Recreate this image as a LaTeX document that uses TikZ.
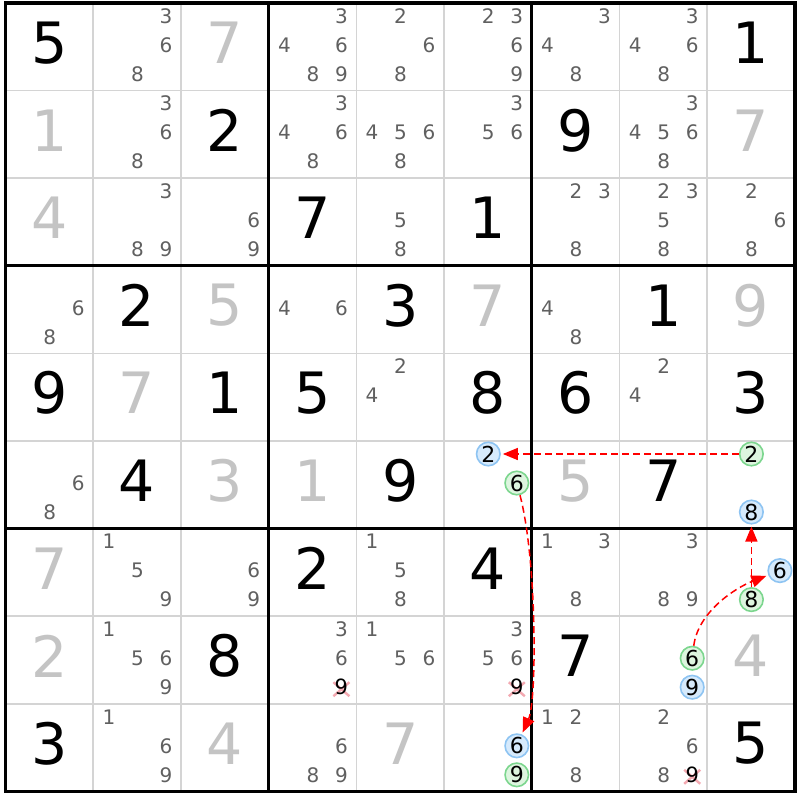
\documentclass[tikz,border=0pt]{standalone}
\usepackage{fontspec}
\setmainfont{DejaVu Sans}
\usetikzlibrary{arrows.meta}
\definecolor{candgray}{HTML}{606060}
\definecolor{solgray}{HTML}{C4C4C4}
\definecolor{gridgray}{HTML}{D4D4D4}
\definecolor{mbfill}{HTML}{D6EAFC}
\definecolor{mbdraw}{HTML}{8EC4F2}
\definecolor{mgfill}{HTML}{DDF5DF}
\definecolor{mgdraw}{HTML}{7CD68E}
\definecolor{xpink}{HTML}{F29AA4}
\definecolor{linkred}{HTML}{FF0000}
\tikzset{
  given/.style={inner sep=0pt, text=black, font=\fontsize{57}{57}\selectfont},
  solved/.style={inner sep=0pt, text=solgray, font=\fontsize{57}{57}\selectfont},
  cand/.style={inner sep=0pt, text=candgray, font=\fontsize{20}{20}\selectfont},
  candx/.style={inner sep=0pt, text=black, font=\fontsize{21}{21}\selectfont},
  markblue/.style={circle, minimum size=23.5pt, inner sep=0pt, fill=mbfill, draw=mbdraw, line width=1.6pt, text=black, font=\fontsize{22}{22}\selectfont},
  markgreen/.style={circle, minimum size=23.5pt, inner sep=0pt, fill=mgfill, draw=mgdraw, line width=1.6pt, text=black, font=\fontsize{22}{22}\selectfont},
  xcross/.style={draw=xpink, line width=2.4pt, opacity=0.85},
  thingrid/.style={draw=gridgray, line width=1.6pt},
  boxline/.style={draw=black, line width=3pt},
  outerline/.style={draw=black, line width=3.5pt},
  linkarrow/.style={draw=linkred, line width=1.5pt, dash pattern=on 7pt off 4pt, -{Triangle[length=15pt,width=12pt]}, shorten >=2pt}
}
\newcommand\CellXY[2]{%
  \pgfmathsetmacro\px{5.5+(#2-1)*87.7+43.85}%
  \pgfmathsetmacro\py{3+(#1-1)*87.6+43.8-4}}
\newcommand\CandXY[3]{%
  \pgfmathsetmacro\px{5.5+(#2-1)*87.7+15.8+mod(#3-1,3)*28.5}%
  \pgfmathsetmacro\py{3+(#1-1)*87.6+13+floor((#3-1)/3)*29}}
\newcommand\Giv[3]{\CellXY{#1}{#2}\node[given] (g#1#2) at (\px,\py) {#3};}
\newcommand\Sol[3]{\CellXY{#1}{#2}\node[solved] (s#1#2) at (\px,\py) {#3};}
\newcommand\Cands[3]{\foreach \dd in {#3}{\CandXY{#1}{#2}{\dd}\node[cand] (k#1#2-\dd) at (\px,\py) {\dd};}}
\newcommand\Mark[4]{\CandXY{#1}{#2}{#3}\node[mark#4] (m#1#2-#3) at (\px,\py) {#3};}
\newcommand\Cross[3]{\CandXY{#1}{#2}{#3}%
  \draw[xcross] ({\px-8},{\py-5}) -- ({\px+8},{\py+9}) ({\px-8},{\py+9}) -- ({\px+8},{\py-5});
  \node[candx] (x#1#2-#3) at (\px,\py) {#3};}
\begin{document}
\begin{tikzpicture}[x=1pt,y=-1pt]
\useasboundingbox[fill=white] (0,0) rectangle (800,800);
% grid
\foreach \i in {1,2,4,5,7,8}{
  \draw[thingrid] ({5.5+\i*87.7},3) -- ({5.5+\i*87.7},791.4);
  \draw[thingrid] (5.5,{3+\i*87.6}) -- (794.8,{3+\i*87.6});
}
\foreach \i in {3,6}{
  \draw[boxline] ({5.5+\i*87.7},3) -- ({5.5+\i*87.7},791.4);
  \draw[boxline] (5.5,{3+\i*87.6}) -- (794.8,{3+\i*87.6});
}
\draw[outerline] (5.5,3) rectangle (794.8,791.4);
% row 1
\Giv{1}{1}{5} \Cands{1}{2}{3,6,8} \Sol{1}{3}{7} \Cands{1}{4}{3,4,6,8,9} \Cands{1}{5}{2,6,8}
\Cands{1}{6}{2,3,6,9} \Cands{1}{7}{3,4,8} \Cands{1}{8}{3,4,6,8} \Giv{1}{9}{1}
% row 2
\Sol{2}{1}{1} \Cands{2}{2}{3,6,8} \Giv{2}{3}{2} \Cands{2}{4}{3,4,6,8} \Cands{2}{5}{4,5,6,8}
\Cands{2}{6}{3,5,6} \Giv{2}{7}{9} \Cands{2}{8}{3,4,5,6,8} \Sol{2}{9}{7}
% row 3
\Sol{3}{1}{4} \Cands{3}{2}{3,8,9} \Cands{3}{3}{6,9} \Giv{3}{4}{7} \Cands{3}{5}{5,8}
\Giv{3}{6}{1} \Cands{3}{7}{2,3,8} \Cands{3}{8}{2,3,5,8} \Cands{3}{9}{2,6,8}
% row 4
\Cands{4}{1}{6,8} \Giv{4}{2}{2} \Sol{4}{3}{5} \Cands{4}{4}{4,6} \Giv{4}{5}{3}
\Sol{4}{6}{7} \Cands{4}{7}{4,8} \Giv{4}{8}{1} \Sol{4}{9}{9}
% row 5
\Giv{5}{1}{9} \Sol{5}{2}{7} \Giv{5}{3}{1} \Giv{5}{4}{5} \Cands{5}{5}{2,4}
\Giv{5}{6}{8} \Giv{5}{7}{6} \Cands{5}{8}{2,4} \Giv{5}{9}{3}
% row 6
\Cands{6}{1}{6,8} \Giv{6}{2}{4} \Sol{6}{3}{3} \Sol{6}{4}{1} \Giv{6}{5}{9}
\Mark{6}{6}{2}{blue} \Mark{6}{6}{6}{green} \Sol{6}{7}{5} \Giv{6}{8}{7}
\Mark{6}{9}{2}{green} \Mark{6}{9}{8}{blue}
% row 7
\Sol{7}{1}{7} \Cands{7}{2}{1,5,9} \Cands{7}{3}{6,9} \Giv{7}{4}{2} \Cands{7}{5}{1,5,8}
\Giv{7}{6}{4} \Cands{7}{7}{1,3,8} \Cands{7}{8}{3,8,9} \Mark{7}{9}{6}{blue} \Mark{7}{9}{8}{green}
% row 8
\Sol{8}{1}{2} \Cands{8}{2}{1,5,6,9} \Giv{8}{3}{8} \Cands{8}{4}{3,6} \Cross{8}{4}{9}
\Cands{8}{5}{1,5,6} \Cands{8}{6}{3,5,6} \Cross{8}{6}{9} \Giv{8}{7}{7}
\Mark{8}{8}{6}{green} \Mark{8}{8}{9}{blue} \Sol{8}{9}{4}
% row 9
\Giv{9}{1}{3} \Cands{9}{2}{1,6,9} \Sol{9}{3}{4} \Cands{9}{4}{6,8,9} \Sol{9}{5}{7}
\Mark{9}{6}{6}{blue} \Mark{9}{6}{9}{green} \Cands{9}{7}{1,2,8} \Cands{9}{8}{2,6,8}
\Cross{9}{8}{9} \Giv{9}{9}{5}
% links
\draw[linkarrow] (m69-2) -- (m66-2);
\draw[linkarrow] (m66-6) .. controls (537,560) and (537,700) .. (m96-6);
\draw[linkarrow] (m88-6) .. controls (698,612) and (735,588) .. (m79-6);
\draw[linkarrow] (m79-8) -- (m69-8);
\end{tikzpicture}
\end{document}
